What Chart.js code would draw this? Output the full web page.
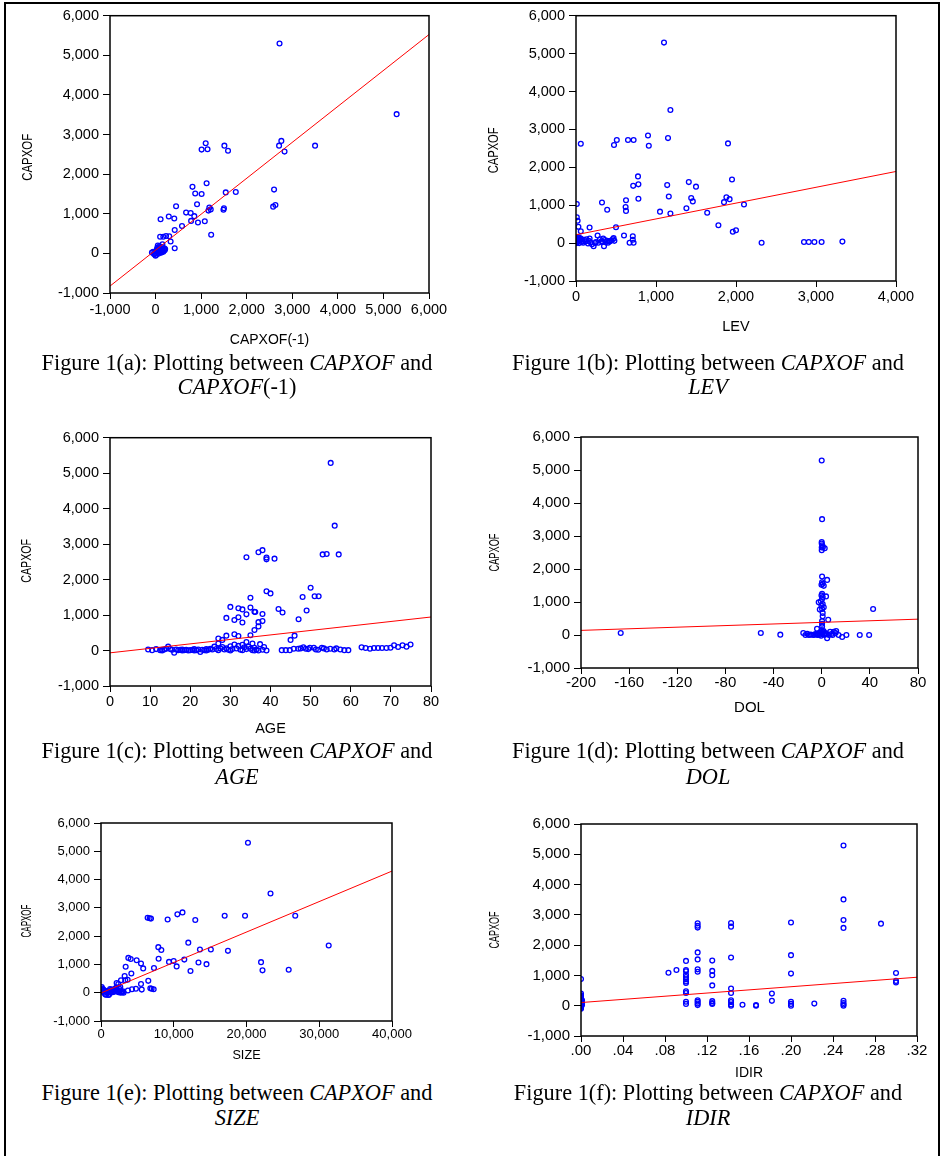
<!DOCTYPE html>
<html>
<head>
<meta charset="utf-8">
<script src="https://cdn.jsdelivr.net/npm/chart.js@4"></script>
<style>
  html, body { margin: 0; padding: 0; background: #fff; }
  #page { position: relative; width: 944px; height: 1156px; overflow: hidden; background: #fff; }
  #frame { position: absolute; left: 4px; top: 2px; width: 936px; height: 1170px; box-sizing: border-box;
           border-top: 2px solid #000; border-left: 2px solid #000; border-right: 2px solid #000; }
  canvas { position: absolute; }
  .cap { position: absolute; width: 472px; text-align: center; font-family: "Liberation Serif", "Times New Roman", serif;
         font-size: 22.3px; color: #000; white-space: nowrap; }
  .cap i { font-style: italic; }
</style>
</head>
<body>
<div id="page">
  <div id="frame"></div>
  <canvas id="ca"></canvas>
  <canvas id="cb"></canvas>
  <canvas id="cc"></canvas>
  <canvas id="cd"></canvas>
  <canvas id="ce"></canvas>
  <canvas id="cf"></canvas>
  <div class="cap" style="left:1px; top:351px; line-height:24px;">Figure 1(a): Plotting between <i>CAPXOF</i> and<br><i>CAPXOF</i>(-1)</div>
  <div class="cap" style="left:472px; top:351px; line-height:24px;">Figure 1(b): Plotting between <i>CAPXOF</i> and<br><i>LEV</i></div>
  <div class="cap" style="left:1px; top:738px; line-height:26px;">Figure 1(c): Plotting between <i>CAPXOF</i> and<br><i>AGE</i></div>
  <div class="cap" style="left:472px; top:738px; line-height:26px;">Figure 1(d): Plotting between <i>CAPXOF</i> and<br><i>DOL</i></div>
  <div class="cap" style="left:1px; top:1080px; line-height:25px;">Figure 1(e): Plotting between <i>CAPXOF</i> and<br><i>SIZE</i></div>
  <div class="cap" style="left:472px; top:1080px; line-height:25px;">Figure 1(f): Plotting between <i>CAPXOF</i> and<br><i>IDIR</i></div>
</div>
<script>
// ---------- shared Y axis (CAPXOF) ----------
const yTicks = [-1000, 0, 1000, 2000, 3000, 4000, 5000, 6000];
const yTickLabels = ["-1,000", "0", "1,000", "2,000", "3,000", "4,000", "5,000", "6,000"];

// ---------- Panel (a): CAPXOF vs CAPXOF(-1) ----------
const xTicksA = [-1000, 0, 1000, 2000, 3000, 4000, 5000, 6000];
const xLabelsA = ["-1,000", "0", "1,000", "2,000", "3,000", "4,000", "5,000", "6,000"];
const xA = [2720, 5290, 3500, 1100, 1010, 1140, 1510, 1590, 2760, 2710, 2830, 810, 1120, 870, 1010, 1540, 1760, 2600, 2580, 2630,
  450, 910, 1180, 1160, 1210, 1490, 1500, 670, 770, 850, 780, 930, 1080, 1220, 110, 290, 410, 420, 580, 100, 170, 230, 300, 330, 420, 150,
  -80, -50, -20, 0, 10, 20, 30, 40, 50, 60, 70, 80, 90, 100, 110, 120, 130, 140, 150, 160, 170, 180, 190, 200, 210, 40, 0, 60, -30, 100, 150];
const yA = [5300, 3515, 2720, 2780, 2620, 2630, 2720, 2590, 2840, 2720, 2570, 1680, 1770, 1510, 1500, 1540, 1550, 1610, 1180, 1220,
  1190, 1240, 1160, 1080, 1110, 1100, 1140, 1030, 1020, 940, 820, 780, 810, 470, 860, 930, 880, 590, 690, 420, 420, 440, 430, 300, 130, 230,
  20, 40, 0, -60, -40, 60, 100, 150, 200, 120, 80, 50, 180, 140, 90, 60, 20, 110, 160, 70, 40, 100, 130, 80, 110, 30, 10, -10, -20, 20, 50];
const fitXA = [-1000, 6000];
const fitYA = [-825, 5525];

// ---------- Panel (b): CAPXOF vs LEV ----------
const xTicksB = [0, 1000, 2000, 3000, 4000];
const xLabelsB = ["0", "1,000", "2,000", "3,000", "4,000"];
const xB = [1100, 1180, 60, 475, 510, 650, 720, 900, 910, 1150, 1900, 775, 715, 780, 780, 1140, 1160, 1410, 1500, 1440, 1460,
  1950, 1880, 1850, 1920, 2100, 325, 390, 625, 620, 625, 1050, 1180, 1380, 1640, 1780, 1960, 2000,
  10, 10, 20, 30, 60, 170, 500, 600, 710, 710, 670, 720, 270, 2320, 2850, 2910, 2980, 3070, 3330,
  10, 20, 30, 40, 50, 60, 70, 80, 90, 100, 120, 150, 170, 180, 200, 220, 250, 280, 300, 320, 340, 350, 370, 390, 400, 420, 440, 460, 470, 480,
  5, 15, 25, 45, 130, 160, 240, 330, 360, 410];
const yB = [5290, 3510, 2620, 2590, 2720, 2720, 2720, 2840, 2570, 2770, 2630, 1760, 1510, 1550, 1170, 1530, 1230, 1610, 1490, 1190, 1100,
  1680, 1210, 1080, 1160, 1020, 1070, 880, 1130, 950, 850, 830, 780, 920, 800, 470, 300, 340,
  1030, 680, 590, 430, 310, 410, 420, 200, 180, 90, 10, 10, 200, 10, 30, 30, 30, 30, 40,
  50, 100, 150, 0, 80, 120, 30, 60, 10, 90, 40, -10, 120, 20, -30, -80, 30, 10, 100, 50, 120, -80, 20, 60, 10, 40, 70, 100, 130, 60,
  0, 20, 70, 130, 100, 60, 0, 30, 80, 50];
const fitXB = [0, 4000];
const fitYB = [220, 1890];

// ---------- Panel (c): CAPXOF vs AGE ----------
const xTicksC = [0, 10, 20, 30, 40, 50, 60, 70, 80];
const xLabelsC = ["0", "10", "20", "30", "40", "50", "60", "70", "80"];
const xC = [55, 56, 34, 37, 38, 39, 39, 41, 53, 54, 57, 35, 39, 40, 50, 48, 51, 52, 49, 30, 32, 33, 35, 36, 36.2, 34, 38, 42, 43,
  29, 31, 32, 33, 37, 38, 37, 36, 47, 29, 31, 32, 35, 45, 46, 27, 28, 34, 35.5, 37.4, 38.4,
  9.5, 10.5, 11.5, 12.5, 13, 13.5, 14, 14.5, 15, 15.5, 16, 16.5, 17, 17.5, 18, 18.5, 19, 19.5, 20, 20.5, 21, 21.5, 22, 22.5, 23, 23.5,
  24, 24.5, 25, 25.5, 26, 26.5, 27, 27.5, 28, 28.5, 29, 29.5, 30, 30.5, 31, 31.5, 32, 32.5, 33, 33.5, 34, 34.5, 35, 35.5, 36, 36.5,
  37, 38, 39, 13, 18, 21, 24, 27, 30, 33, 36,
  42.8, 43.8, 44.8, 45.8, 46.9, 47.5, 48.2, 48.8, 49.4, 49.8, 50.8, 51.3, 51.9, 52.8, 53.3, 54, 54.9, 55.9, 56.4, 57.4, 58.4, 59.4,
  62.7, 63.7, 64.8, 65.8, 66.8, 67.8, 68.9, 69.9, 70.8, 71.8, 72.9, 73.9, 74.9];
const yC = [5290, 3520, 2630, 2770, 2830, 2620, 2570, 2590, 2710, 2720, 2710, 1490, 1670, 1610, 1770, 1510, 1530, 1530, 1130, 1230, 1190, 1160, 1210, 1090, 1085, 1020, 1030, 1170, 1070,
  920, 860, 940, 790, 800, 830, 680, 580, 880, 420, 460, 410, 430, 300, 420, 340, 300, 240, 200, 180, 100,
  30, 10, 40, 10, 20, 30, 50, 110, 40, 20, -60, 30, 10, 20, 0, 10, 20, 0, 10, 20, 0, 10, 30, -40, 20, 10,
  40, 20, 50, 30, 110, 40, 200, 60, 100, 30, 60, 20, 120, 40, 170, 60, 130, 20, 160, 90, 40, 110, 50, 10, 80, 30,
  0, 20, 0, 0, 30, 40, 0, 10, 0, 10, 0,
  10, 10, 10, 50, 50, 60, 90, 50, 40, 80, 80, 30, 20, 80, 60, 30, 50, 30, 60, 30, 10, 10,
  90, 70, 50, 70, 70, 70, 70, 80, 150, 100, 150, 110, 170];
const fitXC = [0, 80];
const fitYC = [-65, 945];

// ---------- Panel (d): CAPXOF vs DOL ----------
const xTicksD = [-200, -160, -120, -80, -40, 0, 40, 80];
const xLabelsD = ["-200", "-160", "-120", "-80", "-40", "0", "40", "80"];
const xD = [-167, -50.6, -34.4, -15.3, -13.5, -12, -10.7, -9.1, -5, -3.5, -2,
  0, 0.3, 0, 0, 0.4, 0, 1, 2.5, 0,
  0.3, 4.5, 0.3, 0.8, -0.2, 1.7,
  0.3, -0.2, 0.8, 3.6, 0.3, -0.8, -2.5, 0.8, -0.2, 1.7, 0.3, -1.6, 0.8, 0.8, 5.4, 0.3, 0.3, 0.3, -3.9,
  0, 0.5, 1, -1, 2, -2, 3, -0.5, 1.5, 0.2, 2.5, 4, -4, -6, -7, 6,
  4.5, 7, 10, 11.5, 14, 17, 20.5, 31.6, 39.4, 42.7, 8, 12, 9];
const yD = [60, 60, 10, 60, 0, 40, 0, 10, 30, 0, 60,
  5290, 3510, 2820, 2770, 2720, 2650, 2670, 2630, 2570,
  1770, 1670, 1600, 1550, 1520, 1490,
  1250, 1200, 1150, 1170, 1090, 1020, 990, 940, 890, 840, 790, 770, 670, 570, 460, 420, 340, 260, 190,
  150, 100, 50, 80, 20, 0, 60, -20, 120, 30, 10, 40, 20, 10, 0, 0,
  -100, 100, 100, 60, 0, -60, 0, 0, 0, 790, 30, 120, 0];
const fitXD = [-200, 80];
const fitYD = [140, 480];

// ---------- Panel (e): CAPXOF vs SIZE ----------
const xTicksE = [0, 10000, 20000, 30000, 40000];
const xLabelsE = ["0", "10,000", "20,000", "30,000", "40,000"];
const xE = [20200, 23300, 26700, 19800, 17000, 12960, 11200, 10500, 9160, 6410, 6690, 6870, 31300, 7880, 8290, 12000, 13600, 15100, 17450,
  7920, 11450, 9350, 9990, 10400, 13400, 14500, 12300, 22000, 22200, 25800, 3760, 4080, 4900, 5500, 5800, 7280, 3390, 4170, 3250, 3340,
  3660, 2750, 6500, 5500, 2150, 2380, 5600, 4800, 4260, 3700, 6780, 6960, 7240,
  100, 150, 200, 250, 300, 400, 500, 600, 700, 800, 900, 1000, 1100, 1200, 1300, 1400, 1500, 1600, 1700, 1800, 1900, 2000, 2100, 2200,
  2300, 2400, 2500, 2600, 2700, 2800, 2900, 3000, 3100, 350, 50, 1250, 2650];
const yE = [5300, 3510, 2720, 2720, 2720, 2570, 2840, 2770, 2590, 2650, 2630, 2620, 1670, 1610, 1510, 1770, 1530, 1530, 1480,
  1200, 1170, 1090, 1120, 930, 1070, 1010, 770, 1080, 790, 810, 1230, 1190, 1150, 1030, 860, 870, 920, 680, 590, 440,
  460, 440, 420, 310, 340, 310, 110, 140, 120, 80, 160, 140, 120,
  200, 150, 100, 50, 120, 0, 80, -60, -70, 20, 60, -80, -70, 30, 0, 100, 50, 20, 120, 80, 40, 150, 180, 100,
  60, 20, 150, 80, 0, 30, 20, 50, 0, 60, 100, 130, 200];
const fitXE = [0, 40000];
const fitYE = [-10, 4300];

// ---------- Panel (f): CAPXOF vs IDIR ----------
const xTicksF = [0, 0.04, 0.08, 0.12, 0.16, 0.20, 0.24, 0.28, 0.32];
const xLabelsF = [".00", ".04", ".08", ".12", ".16", ".20", ".24", ".28", ".32"];
const xF = [0, 0, 0, 0, 0, 0, 0, 0, 0, 0, 0, 0, 0, 0.001, 0.001, 0.001,
  0.1, 0.1, 0.1, 0.1, 0.1, 0.1, 0.1, 0.1, 0.1, 0.1, 0.1, 0.1,
  0.0833, 0.0909,
  0.1111, 0.1111, 0.1111, 0.1111, 0.1111, 0.1111, 0.1111, 0.1111, 0.1111, 0.1111, 0.1111,
  0.125, 0.125, 0.125, 0.125, 0.125, 0.125, 0.125,
  0.1429, 0.1429, 0.1429, 0.1429, 0.1429, 0.1429, 0.1429, 0.1429, 0.1429,
  0.1538, 0.1667, 0.1667, 0.1818, 0.1818,
  0.2, 0.2, 0.2, 0.2, 0.2, 0.2, 0.2222,
  0.25, 0.25, 0.25, 0.25, 0.25, 0.25, 0.25, 0.25, 0.2857, 0.3, 0.3, 0.3];
const yF = [880, 400, 340, 300, 250, 200, 150, 100, 50, 0, -30, -70, -100, 180, 80, 20,
  1480, 1180, 1140, 1020, 950, 870, 800, 750, 480, 420, 130, 60,
  1090, 1180,
  2720, 2640, 2580, 1760, 1530, 1200, 1120, 180, 130, 70, 20,
  1490, 1150, 1010, 670, 150, 90, 60,
  2730, 2610, 1590, 570, 420, 180, 120, 40, 0,
  30, 20, 0, 400, 160,
  2750, 1670, 1060, 130, 60, 0, 70,
  5290, 3510, 2830, 2570, 160, 90, 40, 0, 2710, 1080, 820, 770];
const fitXF = [0, 0.32];
const fitYF = [105, 940];

// ---------- drawing ----------
const SANS = "'Liberation Sans', Arial, sans-serif";
const Y_TITLE = 'CAPXOF';

// plot frame on all four sides
const framePlugin = {
  id: 'frame',
  afterDraw(chart) {
    const a = chart.chartArea, ctx = chart.ctx;
    ctx.save();
    ctx.strokeStyle = '#000';
    ctx.lineWidth = 1.5;
    ctx.strokeRect(a.left, a.top, a.right - a.left, a.bottom - a.top);
    ctx.restore();
  }
};

// condensed, rotated Y axis title (EViews style)
const yTitlePlugin = {
  id: 'ytitle',
  afterDraw(chart, args, opts) {
    const a = chart.chartArea, ctx = chart.ctx;
    ctx.save();
    ctx.font = opts.size + 'px ' + SANS;
    ctx.fillStyle = '#000';
    const w = ctx.measureText(opts.text).width;
    ctx.translate(opts.x, (a.top + a.bottom) / 2 + opts.dy);
    ctx.rotate(-Math.PI / 2);
    ctx.scale(opts.len / w, 1);
    ctx.textAlign = 'center';
    ctx.textBaseline = 'middle';
    ctx.fillText(opts.text, 0, 0);
    ctx.restore();
  }
};

function pairs(xs, ys) { return xs.map((x, i) => ({ x: x, y: ys[i] })); }

function makeChart(id, p) {
  const cv = document.getElementById(id);
  const lhX = p.xTitleSize * 1.2;
  const cLeft = p.yTitleX - 14;
  const cTop = p.T - 12;
  const cRight = p.R + 28;
  const cBottom = Math.ceil(p.xTitleY + lhX / 2 + 2);
  const xTitlePadB = cBottom - p.xTitleY - lhX / 2;
  const W = cRight - cLeft, H = cBottom - cTop;
  cv.width = W; cv.height = H;
  cv.style.left = cLeft + 'px'; cv.style.top = cTop + 'px';
  cv.style.width = W + 'px'; cv.style.height = H + 'px';
  const yW = p.L - cLeft, xH = cBottom - p.B;

  new Chart(cv, {
    type: 'scatter',
    data: {
      datasets: [
        {
          type: 'line', data: pairs(p.fitX, p.fitY), borderColor: '#ff0000', borderWidth: 1,
          pointRadius: 0, fill: false, tension: 0, order: 0
        },
        {
          data: pairs(p.x, p.y), pointStyle: 'circle', pointRadius: 2.4, borderWidth: 1.3,
          borderColor: '#0000ff', backgroundColor: 'rgba(255,255,255,0)', pointHoverRadius: 2.4, order: 1
        }
      ]
    },
    options: {
      responsive: false, animation: false, devicePixelRatio: 1,
      layout: { padding: { top: 12, right: 28, left: 0, bottom: 0 } },
      plugins: {
        legend: { display: false }, tooltip: { enabled: false },
        ytitle: { text: Y_TITLE, x: 14, dy: p.yTitleDy, size: 15, len: p.yTitleLen }
      },
      scales: {
        x: {
          type: 'linear', min: p.xTicks[0], max: p.xTicks[p.xTicks.length - 1],
          afterBuildTicks: s => { s.ticks = p.xTicks.map(v => ({ value: v })); },
          afterFit: s => { s.height = xH; },
          border: { display: false },
          grid: { display: true, drawOnChartArea: false, drawTicks: true, tickLength: 6, color: '#000', lineWidth: 1 },
          ticks: {
            autoSkip: false, maxRotation: 0, padding: p.xTickPad, color: '#000',
            font: { family: SANS, size: p.tickSize },
            callback: (v, i) => p.xLabels[i]
          },
          title: {
            display: true, text: p.xTitle, color: '#000',
            font: { family: SANS, size: p.xTitleSize },
            padding: { top: 0, bottom: xTitlePadB }
          }
        },
        y: {
          type: 'linear', min: -1000, max: 6000,
          afterBuildTicks: s => { s.ticks = yTicks.map(v => ({ value: v })); },
          afterFit: s => { s.width = yW; },
          border: { display: false },
          grid: { display: true, drawOnChartArea: false, drawTicks: true, tickLength: 7, color: '#000', lineWidth: 1 },
          ticks: {
            autoSkip: false, padding: 4, color: '#000',
            font: { family: SANS, size: p.tickSize },
            callback: (v, i) => yTickLabels[i]
          },
          title: { display: false, text: Y_TITLE }
        }
      }
    },
    plugins: [framePlugin, yTitlePlugin]
  });
}

makeChart('ca', { L: 110, T: 15, R: 429, B: 293, yTitleX: 28, yTitleLen: 47, yTitleDy: 3, xTitleY: 340, tickSize: 14.5, xTickPad: 2,
  xTitleSize: 14, xTitle: 'CAPXOF(-1)', xTicks: xTicksA, xLabels: xLabelsA, x: xA, y: yA, fitX: fitXA, fitY: fitYA });
makeChart('cb', { L: 576, T: 15, R: 896, B: 281, yTitleX: 494, yTitleLen: 46, yTitleDy: 2, xTitleY: 327, tickSize: 14.5, xTickPad: 1,
  xTitleSize: 14.5, xTitle: 'LEV', xTicks: xTicksB, xLabels: xLabelsB, x: xB, y: yB, fitX: fitXB, fitY: fitYB });
makeChart('cc', { L: 110, T: 437, R: 431, B: 686, yTitleX: 27, yTitleLen: 44, yTitleDy: -1, xTitleY: 729, tickSize: 14.5, xTickPad: 1,
  xTitleSize: 14.5, xTitle: 'AGE', xTicks: xTicksC, xLabels: xLabelsC, x: xC, y: yC, fitX: fitXC, fitY: fitYC });
makeChart('cd', { L: 581, T: 436, R: 918, B: 668, yTitleX: 495, yTitleLen: 38, yTitleDy: 0, xTitleY: 708, tickSize: 15, xTickPad: 0,
  xTitleSize: 15, xTitle: 'DOL', xTicks: xTicksD, xLabels: xLabelsD, x: xD, y: yD, fitX: fitXD, fitY: fitYD });
makeChart('ce', { L: 101, T: 823, R: 392, B: 1021, yTitleX: 27, yTitleLen: 33, yTitleDy: -1, xTitleY: 1055, tickSize: 13, xTickPad: 0,
  xTitleSize: 12.7, xTitle: 'SIZE', xTicks: xTicksE, xLabels: xLabelsE, x: xE, y: yE, fitX: fitXE, fitY: fitYE });
makeChart('cf', { L: 581, T: 823, R: 917, B: 1036, yTitleX: 495, yTitleLen: 37, yTitleDy: 0, xTitleY: 1073, tickSize: 15, xTickPad: 0,
  xTitleSize: 14, xTitle: 'IDIR', xTicks: xTicksF, xLabels: xLabelsF, x: xF, y: yF, fitX: fitXF, fitY: fitYF });
</script>
</body>
</html>
